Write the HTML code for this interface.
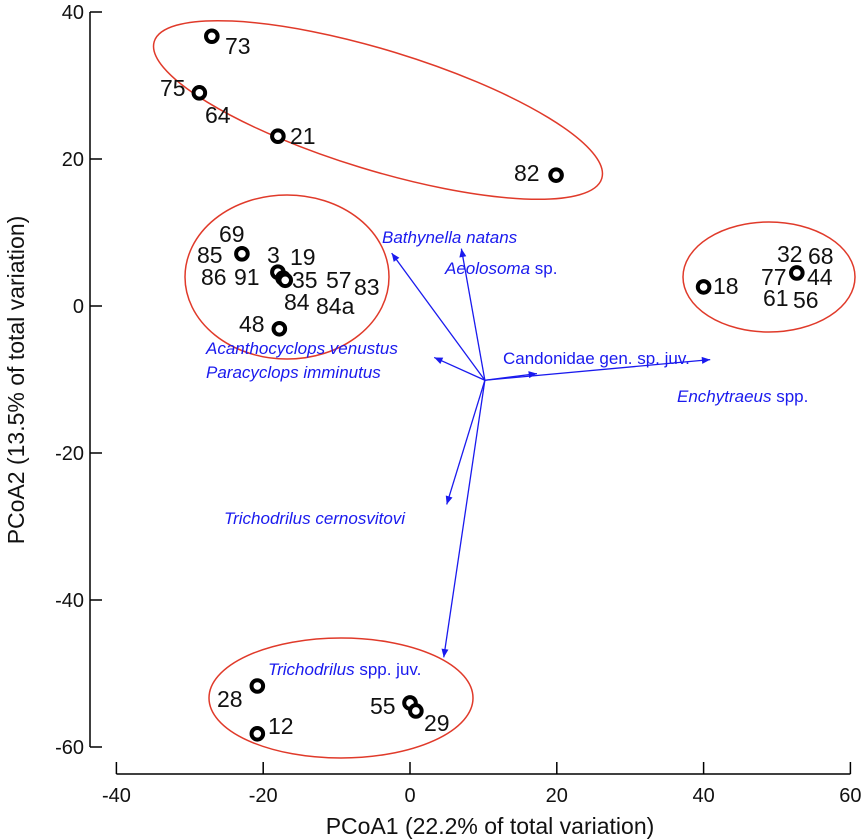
<!DOCTYPE html>
<html><head><meta charset="utf-8"><style>
body{margin:0;background:#fff}
svg{display:block;font-family:"Liberation Sans",Arial,sans-serif}
.lbl{font-size:23px;fill:#111}
.sp{font-size:17px;fill:#1a1aee}
.it{font-style:italic}
.tk{font-size:20px;fill:#111}
</style></head><body>
<svg id="c" width="867" height="839" viewBox="0 0 867 839">
<g id="ell" fill="none" stroke="#e03a2a" stroke-width="1.5">
<ellipse cx="378" cy="110" rx="234" ry="60" transform="rotate(17 378 110)"/>
<ellipse cx="287" cy="277" rx="102" ry="82"/>
<ellipse cx="769" cy="277" rx="86" ry="55"/>
<ellipse cx="341" cy="698" rx="132" ry="60"/>
</g>
<g id="axes"></g><g id="arrows"></g><g id="pts"></g>
</svg>
<script>
const xTicks=[-40,-20,0,20,40,60];
const yTicks=[40,20,0,-20,-40,-60];
const siteX=[-27,-28.7,-18,19.9,-22.9,-18,-17.3,-17,-17.8,40,52.7,-20.8,-20.8,0,0.8];
const siteY=[36.7,29,23.1,17.8,7.1,4.6,3.8,3.5,-3.1,2.6,4.5,-51.7,-58.2,-54,-55.1];
const vecNames=["Bathynella natans","Aeolosoma sp.","Acanthocyclops venustus","Candonidae gen. sp. juv.","Enchytraeus spp.","Trichodrilus cernosvitovi","Trichodrilus spp. juv."];
const vecX=[-2.5,7,3.3,17.3,40.9,5,4.6];
const vecY=[7.2,7.8,-7,-9.2,-7.3,-27,-47.8];
const origin=[10.2,-10.1];
const sx=v=>410+v*7.34, sy=v=>306-v*7.35;
const NS="http://www.w3.org/2000/svg";
function mk(p,t,a){const e=document.createElementNS(NS,t);for(const k in a)e.setAttribute(k,a[k]);p.appendChild(e);return e;}
const ax=document.getElementById('axes');
let l=mk(ax,'path',{d:`M90 ${sy(40)}V${sy(-60)}M${sx(-40)} 774H${sx(60)}`,stroke:'#000','stroke-width':1.5,fill:'none'});

xTicks.forEach(v=>{const t=mk(ax,'line',{x1:sx(v),x2:sx(v),y1:774,y2:762,stroke:'#000','stroke-width':1.5});

const s=mk(ax,'text',{x:sx(v),y:802,'text-anchor':'middle',class:'tk'});s.textContent=v;
});
yTicks.forEach(v=>{const t=mk(ax,'line',{x1:90,x2:102,y1:sy(v),y2:sy(v),stroke:'#000','stroke-width':1.5});

const s=mk(ax,'text',{x:84,y:sy(v)+7,'text-anchor':'end',class:'tk'});s.textContent=v;
});
let xt=mk(ax,'text',{x:490,y:834,'text-anchor':'middle',style:'font-size:23px;fill:#111'});xt.textContent='PCoA1 (22.2% of total variation)';

let yt=mk(ax,'text',{x:0,y:0,'text-anchor':'middle',style:'font-size:23px;fill:#111',transform:'translate(24 380) rotate(-90)'});yt.textContent='PCoA2 (13.5% of total variation)';

const ar=document.getElementById('arrows');
const ox=sx(origin[0]),oy=sy(origin[1]);
vecX.forEach((v,i)=>{const x=sx(v),y=sy(vecY[i]);const a=Math.atan2(y-oy,x-ox);
const ln=mk(ar,'line',{x1:ox,y1:oy,x2:x,y2:y,stroke:'#1a1aee','stroke-width':1.3});

const h=9,w=0.4;const hd=mk(ar,'path',{d:`M${x} ${y}L${x-h*Math.cos(a-w)} ${y-h*Math.sin(a-w)}L${x-h*Math.cos(a+w)} ${y-h*Math.sin(a+w)}Z`,fill:'#1a1aee'});
});
const vl=[[382,243,"Bathynella natans",""],[445,274,"Aeolosoma"," sp."],[206,354,"Acanthocyclops venustus",""],[206,378,"Paracyclops imminutus",""],[503,364,"","Candonidae gen. sp. juv."],[677,402,"Enchytraeus"," spp."],[224,524,"Trichodrilus cernosvitovi",""],[268,675,"Trichodrilus"," spp. juv."]];
vl.forEach(d=>{const t=mk(ar,'text',{x:d[0],y:d[1],class:'sp'});
if(d[2]){const a=mk(t,'tspan',{class:'it'});a.textContent=d[2];}
if(d[3]){const b=mk(t,'tspan',{});b.textContent=d[3];}
});
const pg=document.getElementById('pts');
siteX.forEach((v,i)=>{const c=mk(pg,'circle',{cx:sx(v),cy:sy(siteY[i]),r:5.8,fill:'#fff',stroke:'#000','stroke-width':4});
});
const tl=[[225,54,"73"],[160,96,"75"],[205,123,"64"],[290,144,"21"],[514,181,"82"],[219,242,"69"],[197,263,"85"],[267,263,"3"],[290,265,"19"],[201,285,"86"],[234,285,"91"],[292,288,"35"],[326,288,"57"],[354,295,"83"],[284,310,"84"],[316,314,"84a"],[239,332,"48"],[713,294,"18"],[777,262,"32"],[808,264,"68"],[761,285,"77"],[807,285,"44"],[763,306,"61"],[793,308,"56"],[217,707,"28"],[268,734,"12"],[370,714,"55"],[424,731,"29"]];
tl.forEach(d=>{const t=mk(pg,'text',{x:d[0],y:d[1],class:'lbl'});t.textContent=d[2];
});
</script>
</body></html>
